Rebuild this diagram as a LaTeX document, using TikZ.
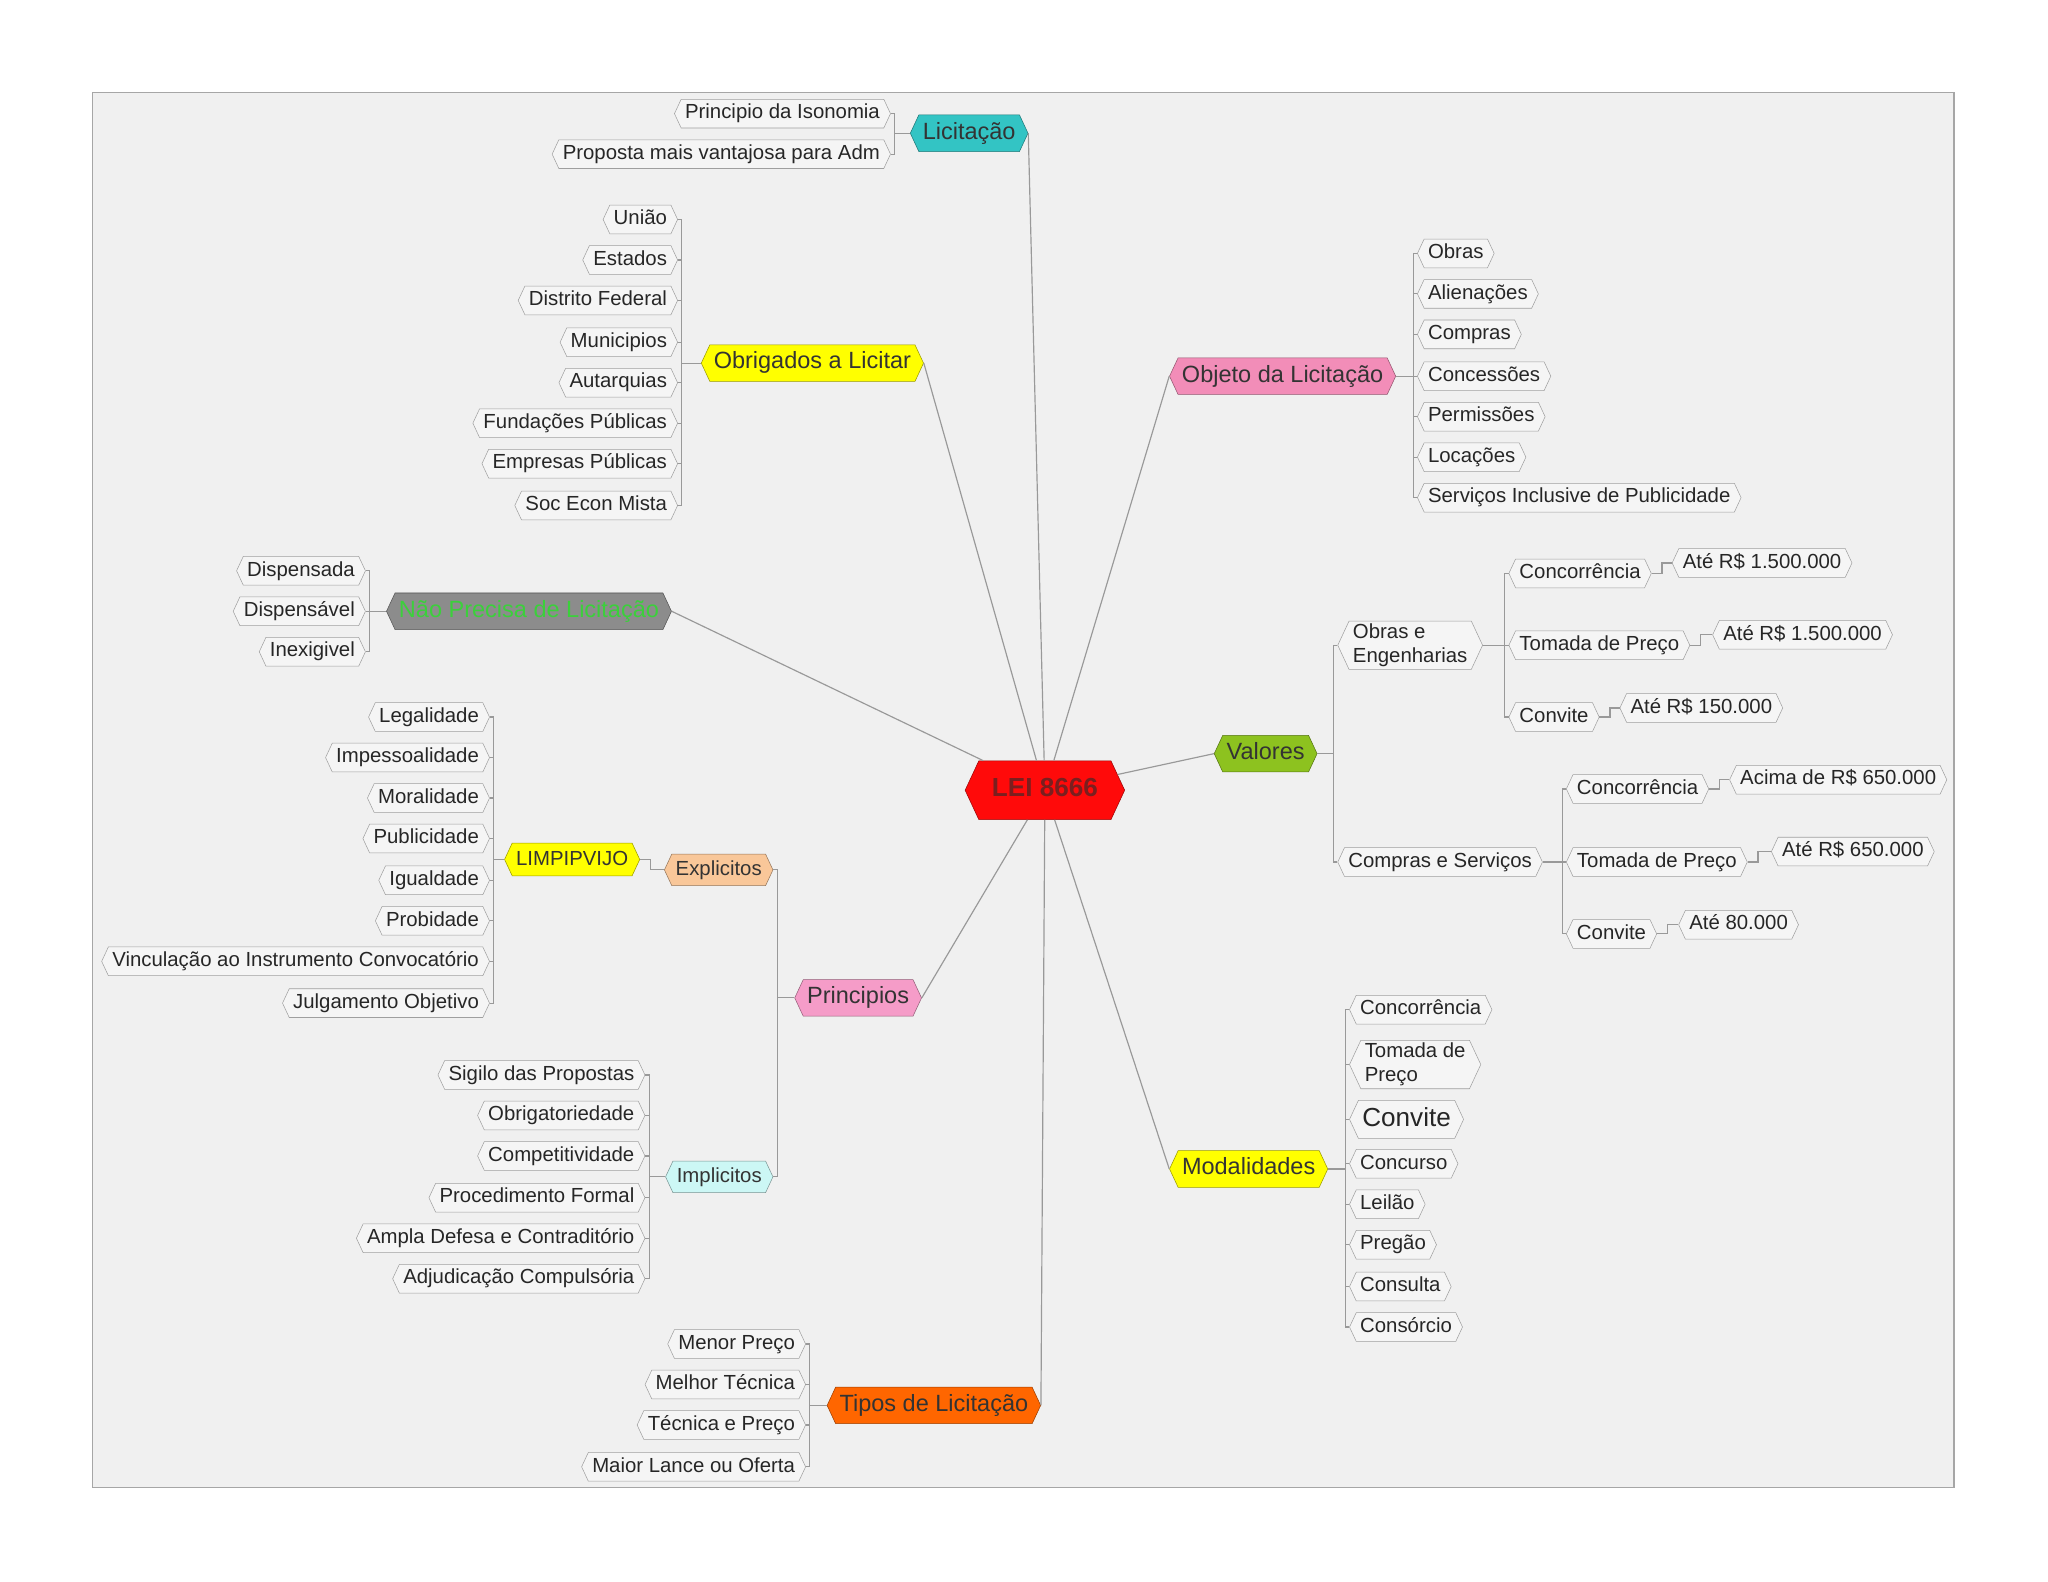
\documentclass[tikz,border=0pt]{standalone}
\usepackage{fontspec}
\setmainfont{Liberation Sans}
\usepackage{xcolor}
\usepackage{tikz}
\usetikzlibrary{shapes.symbols}

\definecolor{bgc}{HTML}{F0F0F0}
\definecolor{leafc}{HTML}{F5F5F5}
\definecolor{leic}{HTML}{FF0A0A}
\definecolor{leit}{HTML}{7A1F1F}
\definecolor{licc}{HTML}{33C4C4}
\definecolor{obrc}{HTML}{FFFF00}
\definecolor{objc}{HTML}{F28DB8}
\definecolor{naoc}{HTML}{8C8C8C}
\definecolor{naot}{HTML}{3BD03B}
\definecolor{valc}{HTML}{8DC21F}
\definecolor{pric}{HTML}{F59CC8}
\definecolor{tipc}{HTML}{FF6600}
\definecolor{expc}{HTML}{F9C799}
\definecolor{impc}{HTML}{CCF7F5}

\newcommand\leaffont{\fontsize{15.6}{18.5}\selectfont}
\newcommand\topicfont{\fontsize{18}{20}\selectfont}

\begin{document}
\begin{tikzpicture}[x=1pt,y=-1pt,
  leaf/.style={signal,signal to=east and west,signal pointer angle=130,
    draw=gray!75,fill=leafc,text=black!85,font=\leaffont,
    text height=11.5pt,text depth=3.5pt,
    inner xsep=3pt,inner ysep=2pt,minimum height=22pt},
  twoline/.style={align=left,text height=,text depth=},
  topic/.style={leaf,fill=#1,draw=#1!60!black,text=black!80,
    font=\topicfont,text height=13pt,text depth=4pt,minimum height=28pt},
  link/.style={draw=gray!80,line width=0.9pt}]

\fill[white] (0,0) rectangle (1568,1211);
\useasboundingbox (0,0) rectangle (1568,1211);
\draw[gray!70,fill=bgc,line width=1pt] (71,71) rectangle (1496,1139);

% centre
\node[topic=leic,text=leit,font=\bfseries\fontsize{20}{22}\selectfont,
      minimum height=45pt,inner xsep=10pt] (lei) at (800,605) {LEI 8666};

% main topics
\node[topic=licc] (lic) at (742,102) {Licitação};
\node[topic=obrc] (obr) at (622,278) {Obrigados a Licitar};
\node[topic=objc] (obj) at (982,288) {Objeto da Licitação};
\node[topic=naoc,text=naot] (nao) at (405,468) {Não Precisa de Licitação};
\node[topic=valc] (val) at (969,577) {Valores};
\node[topic=pric] (pri) at (657,764) {Principios};
\node[topic=obrc] (mod) at (956,895) {Modalidades};
\node[topic=tipc] (tip) at (715,1076) {Tipos de Licitação};

\draw[link] (lei) -- (lic.east);
\draw[link] (lei) -- (obr.east);
\draw[link] (lei) -- (obj.west);
\draw[link] (lei) -- (nao.east);
\draw[link] (lei) -- (val.west);
\draw[link] (lei) -- (pri.east);
\draw[link] (lei) -- (mod.west);
\draw[link] (lei) -- (tip.east);

% Licitacao
\node[leaf,anchor=east] (lic1) at (682,87) {Principio da Isonomia};
\node[leaf,anchor=east] (lic2) at (682,118) {Proposta mais vantajosa para Adm};
\draw[link] (lic1.east) -- ++(3,0) |- (lic.west)
            (lic2.east) -- ++(3,0) |- (lic.west);

% Obrigados a licitar
\node[leaf,anchor=east] (obr1) at (519,168) {União};
\node[leaf,anchor=east] (obr2) at (519,199) {Estados};
\node[leaf,anchor=east] (obr3) at (519,230) {Distrito Federal};
\node[leaf,anchor=east] (obr4) at (519,262) {Municipios};
\node[leaf,anchor=east] (obr5) at (519,293) {Autarquias};
\node[leaf,anchor=east] (obr6) at (519,324) {Fundações Públicas};
\node[leaf,anchor=east] (obr7) at (519,355) {Empresas Públicas};
\node[leaf,anchor=east] (obr8) at (519,387) {Soc Econ Mista};
\draw[link] (obr1.east) -- ++(3,0) |- (obr.west)
            (obr2.east) -- ++(3,0) |- (obr.west)
            (obr3.east) -- ++(3,0) |- (obr.west)
            (obr4.east) -- ++(3,0) |- (obr.west)
            (obr5.east) -- ++(3,0) |- (obr.west)
            (obr6.east) -- ++(3,0) |- (obr.west)
            (obr7.east) -- ++(3,0) |- (obr.west)
            (obr8.east) -- ++(3,0) |- (obr.west);

% Objeto
\node[leaf,anchor=west] (obj1) at (1085,194) {Obras};
\node[leaf,anchor=west] (obj2) at (1085,225) {Alienações};
\node[leaf,anchor=west] (obj3) at (1085,256) {Compras};
\node[leaf,anchor=west] (obj4) at (1085,288) {Concessões};
\node[leaf,anchor=west] (obj5) at (1085,319) {Permissões};
\node[leaf,anchor=west] (obj6) at (1085,350) {Locações};
\node[leaf,anchor=west] (obj7) at (1085,381) {Serviços Inclusive de Publicidade};
\draw[link] (obj1.west) -- ++(-3,0) |- (obj.east)
            (obj2.west) -- ++(-3,0) |- (obj.east)
            (obj3.west) -- ++(-3,0) |- (obj.east)
            (obj4.west) -- ++(-3,0) |- (obj.east)
            (obj5.west) -- ++(-3,0) |- (obj.east)
            (obj6.west) -- ++(-3,0) |- (obj.east)
            (obj7.west) -- ++(-3,0) |- (obj.east);

% Nao precisa
\node[leaf,anchor=east] (nao1) at (280,437) {Dispensada};
\node[leaf,anchor=east] (nao2) at (280,468) {Dispensável};
\node[leaf,anchor=east] (nao3) at (280,499) {Inexigivel};
\draw[link] (nao1.east) -- ++(3,0) |- (nao.west)
            (nao2.east) -- ++(3,0) |- (nao.west)
            (nao3.east) -- ++(3,0) |- (nao.west);

% Valores
\node[leaf,twoline,anchor=west] (oe) at (1024,494) {Obras e\\Engenharias};
\node[leaf,anchor=west] (cs) at (1024,660) {Compras e Serviços};
\draw[link] (oe.west) -- ++(-3,0) |- (val.east)
            (cs.west) -- ++(-3,0) |- (val.east);

\node[leaf,anchor=west] (oe1) at (1155,439) {Concorrência};
\node[leaf,anchor=west] (oe2) at (1155,494) {Tomada de Preço};
\node[leaf,anchor=west] (oe3) at (1155,549) {Convite};
\draw[link] (oe1.west) -- ++(-3,0) |- (oe.east)
            (oe2.west) -- ++(-3,0) |- (oe.east)
            (oe3.west) -- ++(-3,0) |- (oe.east);
\node[leaf,anchor=west] (oe1v) at (1280,431) {Até R\$ 1.500.000};
\node[leaf,anchor=west] (oe2v) at (1311,486) {Até R\$ 1.500.000};
\node[leaf,anchor=west] (oe3v) at (1240,542) {Até R\$ 150.000};
\draw[link] (oe1.east) -- ++(8,0) |- (oe1v.west);
\draw[link] (oe2.east) -- ++(8,0) |- (oe2v.west);
\draw[link] (oe3.east) -- ++(8,0) |- (oe3v.west);

\node[leaf,anchor=west] (cs1) at (1199,604) {Concorrência};
\node[leaf,anchor=west] (cs2) at (1199,660) {Tomada de Preço};
\node[leaf,anchor=west] (cs3) at (1199,715) {Convite};
\draw[link] (cs1.west) -- ++(-3,0) |- (cs.east)
            (cs2.west) -- ++(-3,0) |- (cs.east)
            (cs3.west) -- ++(-3,0) |- (cs.east);
\node[leaf,anchor=west] (cs1v) at (1324,597) {Acima de R\$ 650.000};
\node[leaf,anchor=west] (cs2v) at (1356,652) {Até R\$ 650.000};
\node[leaf,anchor=west] (cs3v) at (1285,708) {Até 80.000};
\draw[link] (cs1.east) -- ++(8,0) |- (cs1v.west);
\draw[link] (cs2.east) -- ++(8,0) |- (cs2v.west);
\draw[link] (cs3.east) -- ++(8,0) |- (cs3v.west);

% Principios
\node[topic=expc,font=\leaffont,minimum height=24pt,anchor=east] (exp) at (592,666) {Explicitos};
\node[topic=impc,font=\leaffont,minimum height=24pt,anchor=east] (imp) at (592,901) {Implicitos};
\draw[link] (exp.east) -- ++(3,0) |- (pri.west)
            (imp.east) -- ++(3,0) |- (pri.west);
\node[topic=obrc,font=\leaffont,minimum height=25pt,anchor=east] (lim) at (490,658) {LIMPIPVIJO};
\draw[link] (lim.east) -- ++(8,0) |- (exp.west);

\node[leaf,anchor=east] (lim1) at (375,549) {Legalidade};
\node[leaf,anchor=east] (lim2) at (375,580) {Impessoalidade};
\node[leaf,anchor=east] (lim3) at (375,611) {Moralidade};
\node[leaf,anchor=east] (lim4) at (375,642) {Publicidade};
\node[leaf,anchor=east] (lim5) at (375,674) {Igualdade};
\node[leaf,anchor=east] (lim6) at (375,705) {Probidade};
\node[leaf,anchor=east] (lim7) at (375,736) {Vinculação ao Instrumento Convocatório};
\node[leaf,anchor=east] (lim8) at (375,768) {Julgamento Objetivo};
\draw[link] (lim1.east) -- ++(3,0) |- (lim.west)
            (lim2.east) -- ++(3,0) |- (lim.west)
            (lim3.east) -- ++(3,0) |- (lim.west)
            (lim4.east) -- ++(3,0) |- (lim.west)
            (lim5.east) -- ++(3,0) |- (lim.west)
            (lim6.east) -- ++(3,0) |- (lim.west)
            (lim7.east) -- ++(3,0) |- (lim.west)
            (lim8.east) -- ++(3,0) |- (lim.west);

\node[leaf,anchor=east] (imp1) at (494,823) {Sigilo das Propostas};
\node[leaf,anchor=east] (imp2) at (494,854) {Obrigatoriedade};
\node[leaf,anchor=east] (imp3) at (494,885) {Competitividade};
\node[leaf,anchor=east] (imp4) at (494,917) {Procedimento Formal};
\node[leaf,anchor=east] (imp5) at (494,948) {Ampla Defesa e Contraditório};
\node[leaf,anchor=east] (imp6) at (494,979) {Adjudicação Compulsória};
\draw[link] (imp1.east) -- ++(3,0) |- (imp.west)
            (imp2.east) -- ++(3,0) |- (imp.west)
            (imp3.east) -- ++(3,0) |- (imp.west)
            (imp4.east) -- ++(3,0) |- (imp.west)
            (imp5.east) -- ++(3,0) |- (imp.west)
            (imp6.east) -- ++(3,0) |- (imp.west);

% Modalidades
\node[leaf,anchor=west] (mod1) at (1033,773) {Concorrência};
\node[leaf,twoline,anchor=west] (mod2) at (1033,815) {Tomada de\\Preço};
\node[leaf,anchor=west,font=\fontsize{20}{22}\selectfont,text height=14.5pt,
      text depth=4pt,minimum height=29pt] (mod3) at (1033,857) {Convite};
\node[leaf,anchor=west] (mod4) at (1033,891) {Concurso};
\node[leaf,anchor=west] (mod5) at (1033,922) {Leilão};
\node[leaf,anchor=west] (mod6) at (1033,953) {Pregão};
\node[leaf,anchor=west] (mod7) at (1033,985) {Consulta};
\node[leaf,anchor=west] (mod8) at (1033,1016) {Consórcio};
\draw[link] (mod1.west) -- ++(-3,0) |- (mod.east)
            (mod2.west) -- ++(-3,0) |- (mod.east)
            (mod3.west) -- ++(-3,0) |- (mod.east)
            (mod4.west) -- ++(-3,0) |- (mod.east)
            (mod5.west) -- ++(-3,0) |- (mod.east)
            (mod6.west) -- ++(-3,0) |- (mod.east)
            (mod7.west) -- ++(-3,0) |- (mod.east)
            (mod8.west) -- ++(-3,0) |- (mod.east);

% Tipos
\node[leaf,anchor=east] (tip1) at (617,1029) {Menor Preço};
\node[leaf,anchor=east] (tip2) at (617,1060) {Melhor Técnica};
\node[leaf,anchor=east] (tip3) at (617,1091) {Técnica e Preço};
\node[leaf,anchor=east] (tip4) at (617,1123) {Maior Lance ou Oferta};
\draw[link] (tip1.east) -- ++(3,0) |- (tip.west)
            (tip2.east) -- ++(3,0) |- (tip.west)
            (tip3.east) -- ++(3,0) |- (tip.west)
            (tip4.east) -- ++(3,0) |- (tip.west);
\end{tikzpicture}
\end{document}
